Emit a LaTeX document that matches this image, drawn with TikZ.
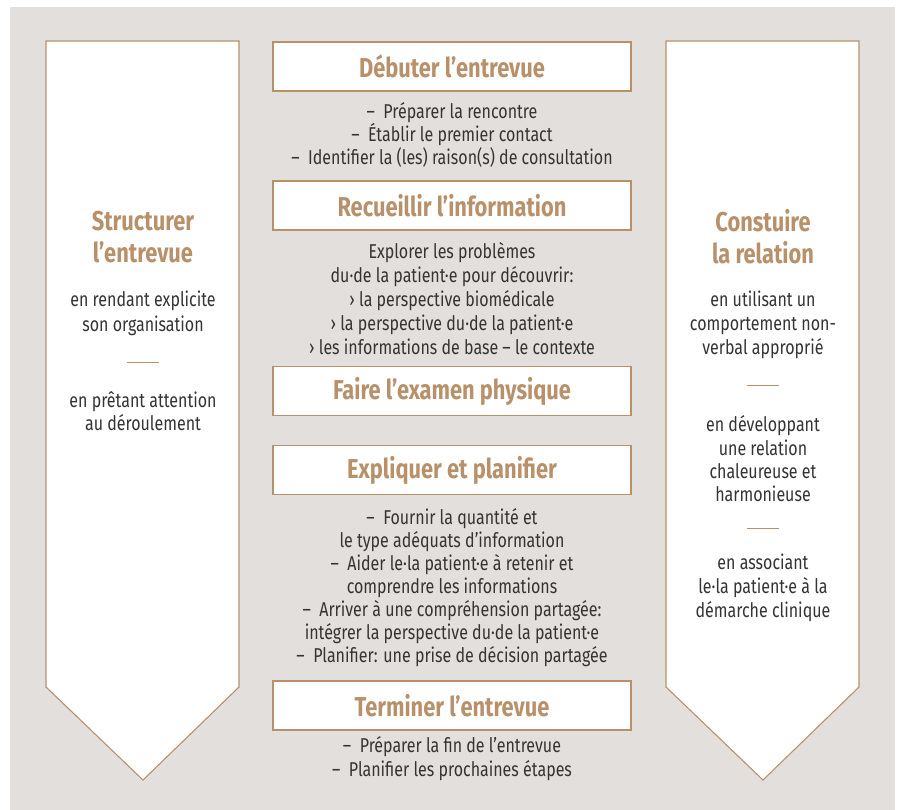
\documentclass[tikz,border=0pt]{standalone}
\usepackage{fontspec}
\setmainfont{Fira Sans}[FakeStretch=0.8]
\definecolor{tanc}{HTML}{B8916B}
\definecolor{bgc}{HTML}{E3DFDC}
\definecolor{txtc}{HTML}{353434}
\begin{document}
\begin{tikzpicture}[x=1pt,y=-1pt,
  stepbox/.style={draw=tanc,line width=1.1pt,fill=white,minimum width=358pt,minimum height=49pt,inner sep=0pt,
    font=\fontsize{27.3}{30}\selectfont\bfseries,text=tanc},
  body/.style={align=center,text=txtc,inner sep=0pt},
  ptitle/.style={align=center,text=tanc,inner sep=0pt,font=\fontsize{27.3}{32}\selectfont\bfseries},
  pennant/.style={draw=tanc,line width=1.1pt,fill=white},
  sep/.style={draw=tanc,line width=0.9pt}]
\useasboundingbox (0,0) rectangle (901,810);
\fill[white] (0,0) rectangle (901,810);
\fill[bgc] (10,7) rectangle (895,810);
% pennants
\draw[pennant] (46,41) -- (239,41) -- (239,687) -- (143,780) -- (46,687) -- cycle;
\draw[pennant] (666,41) -- (859,41) -- (859,687) -- (763,780) -- (666,687) -- cycle;
% left pennant text
\node[ptitle] (lt) at (143,237) {Structurer\\l’entrevue};
\node[body,font=\fontsize{20}{25}\selectfont] (l1) at (143,313) {en rendant explicite\\son organisation};
\draw[sep] (127,362) -- (159,362);
\node[body,font=\fontsize{20}{23}\selectfont] (l2) at (143,411) {en prêtant attention\\au déroulement};
% right pennant text
\node[ptitle] (rt) at (763,237) {Constuire\\la relation};
\node[body,font=\fontsize{20}{24}\selectfont] (r1) at (763,325) {en utilisant un\\comportement non-\\verbal approprié};
\draw[sep] (747,385) -- (779,385);
\node[body,font=\fontsize{20}{23.3}\selectfont] (r2) at (763,459) {en développant\\une relation\\chaleureuse et\\harmonieuse};
\draw[sep] (747,528) -- (779,528);
\node[body,font=\fontsize{20}{24}\selectfont] (r3) at (763,588) {en associant\\le·la patient·e à la\\démarche clinique};
% middle boxes
\node[stepbox] (b1) at (452,66.5) {Débuter l’entrevue};
\node[body,font=\fontsize{20}{23}\selectfont] (t1) at (452,135) {–~~Préparer la rencontre\\–~~Établir le premier contact\\–~~Identifier la (les) raison(s) de consultation};
\node[stepbox] (b2) at (452,205.5) {Recueillir l’information};
\node[body,font=\fontsize{20}{24}\selectfont] (t2) at (452,299) {Explorer les problèmes\\du·de la patient·e pour découvrir:\\› la perspective biomédicale\\› la perspective du·de la patient·e\\› les informations de base – le contexte};
\node[stepbox] (b3) at (452,391) {Faire l’examen physique};
\node[stepbox] (b4) at (452,470) {Expliquer et planifier};
\node[body,font=\fontsize{20}{23}\selectfont] (t4) at (452,588) {–~~Fournir la quantité et\\le type adéquats d’information\\–~~Aider le·la patient·e à retenir et\\comprendre les informations\\–~~Arriver à une compréhension partagée:\\intégrer la perspective du·de la patient·e\\–~~Planifier: une prise de décision partagée};
\node[stepbox] (b5) at (452,705.5) {Terminer l’entrevue};
\node[body,font=\fontsize{20}{24}\selectfont] (t5) at (452,759) {–~~Préparer la fin de l’entrevue\\–~~Planifier les prochaines étapes};
\end{tikzpicture}
\end{document}
